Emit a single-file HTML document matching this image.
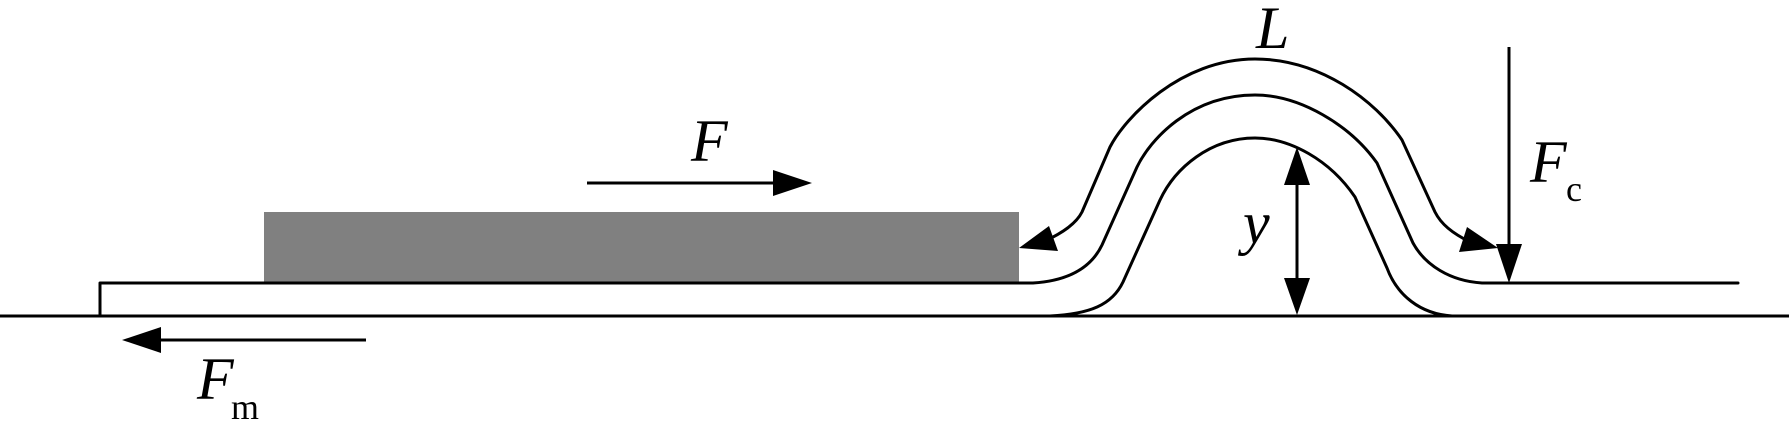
<!DOCTYPE html>
<html><head><meta charset="utf-8"><style>
html,body{margin:0;padding:0;background:#fff;width:1789px;height:437px;overflow:hidden}
svg{display:block}
text{font-family:"Liberation Serif",serif;fill:#000}
.i{font-style:italic;font-size:60px}
.s{font-size:36px}
path{fill:none;stroke:#000;stroke-width:3;stroke-linejoin:round;stroke-linecap:round}
.h{fill:#000;stroke:none}
line{stroke:#000;stroke-width:3}
</style></head><body>
<svg width="1789" height="437" viewBox="0 0 1789 437" xmlns="http://www.w3.org/2000/svg">
<rect x="264" y="212" width="755" height="71" fill="#808080"/>
<line x1="0" y1="316" x2="1789" y2="316"/>
<path d="M100 316V283H1033C1065 281 1090 270 1102 245L1137 167C1150 140 1190 95 1255 95C1300 95 1350 125 1377 163L1413 243C1425 265 1450 281 1482 283H1738"/>
<path d="M1050 316C1090 314 1112 305 1123 282L1160 200C1175 168 1210 138 1255 138C1290 138 1330 160 1355 197L1387 268C1397 295 1420 314 1452 316"/>
<path d="M1045 241C1062 233 1076 224 1082 212L1110 147C1125 118 1180 59 1255 59C1320 59 1375 100 1402 140L1435 212C1441 224 1452 233 1470 242"/>
<line x1="366" y1="340" x2="150" y2="340"/>
<polygon class="h" points="122,340 161,327 161,353"/>
<line x1="587" y1="183" x2="785" y2="183"/>
<polygon class="h" points="812,183 773,170 773,196"/>
<line x1="1297" y1="170" x2="1297" y2="295"/>
<polygon class="h" points="1297,147 1284,185 1310,185"/>
<polygon class="h" points="1297,315 1284,278 1310,278"/>
<line x1="1509" y1="47" x2="1509" y2="260"/>
<polygon class="h" points="1509,283 1496,244 1522,244"/>
<polygon class="h" points="1019,248 1049,226 1058,251"/>
<polygon class="h" points="1498,248 1467,227 1459,252"/>
<text class="i" x="197" y="399">F</text>
<text class="s" x="231" y="419">m</text>
<text class="i" x="691" y="161">F</text>
<text class="i" x="1256" y="48">L</text>
<text class="i" x="1243" y="243">y</text>
<text class="i" x="1530" y="182">F</text>
<text class="s" x="1566" y="201">c</text>
</svg>
</body></html>
